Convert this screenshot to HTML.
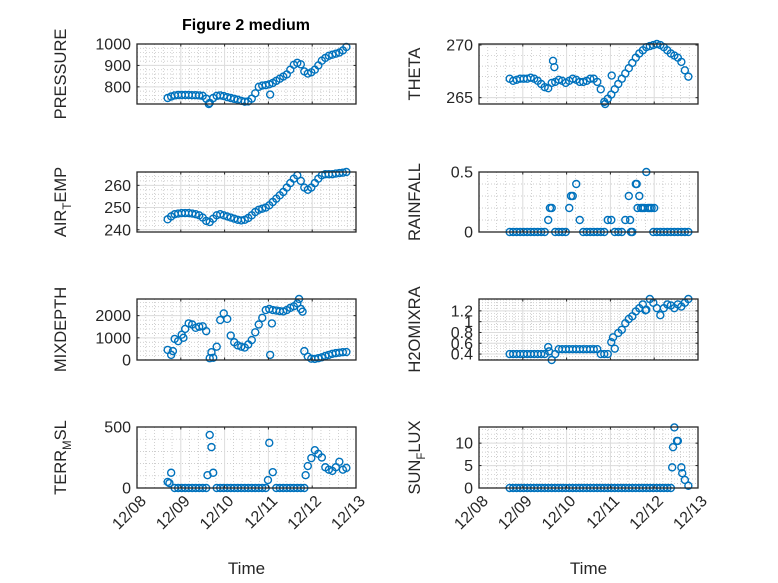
<!DOCTYPE html>
<html><head><meta charset="utf-8"><style>
html,body{margin:0;padding:0;background:#fff;}
svg{display:block;font-family:"Liberation Sans","DejaVu Sans",sans-serif;}
</style></head><body>
<svg id="fig" width="778" height="583" viewBox="0 0 778 583" xmlns="http://www.w3.org/2000/svg">
<rect width="778" height="583" fill="#fff"/>
<text x="246" y="30" text-anchor="middle" font-weight="bold" font-size="16" fill="#000">Figure 2 medium</text>
</svg>
<script>
const T=[0.70,0.78,0.86,0.94,1.02,1.10,1.18,1.26,1.34,1.42,1.50,1.58,1.66,1.74,1.82,1.90,1.98,2.06,2.14,2.22,2.30,2.38,2.46,2.54,2.62,2.70,2.78,2.86,2.94,3.02,3.10,3.18,3.26,3.34,3.42,3.50,3.58,3.66,3.74,3.82,3.90,3.98,4.06,4.14,4.22,4.30,4.38,4.46,4.54,4.62,4.70,4.78];
const pressure=[748,755,760,762,762,762,762,761,761,760,758,745,725,748,758,760,757,752,748,744,740,735,731,732,745,770,800,806,808,812,818,828,838,848,858,880,903,912,905,872,862,868,880,900,922,935,945,950,955,960,970,986];
const pressureExtra=[[3.04,764],[1.64,720]];
const theta=[266.8,266.6,266.7,266.8,266.8,266.8,266.9,266.8,266.6,266.3,266.0,265.9,266.4,266.5,266.7,266.6,266.4,266.6,266.8,266.7,266.5,266.5,266.6,266.8,266.8,266.5,265.8,264.6,264.9,265.3,265.8,266.3,266.8,267.3,267.8,268.3,268.8,269.2,269.5,269.8,269.9,270.0,270.1,270.0,269.8,269.5,269.2,269.0,268.8,268.4,267.6,267.0];
const thetaExtra=[[1.69,268.5],[1.72,267.9],[3.03,267.1],[2.88,264.4]];
const airTemp=[244.7,246,247,247.3,247.5,247.5,247.5,247.3,247,246.5,245.5,244,243.5,245,246.5,247,246.5,246,245.5,245,244.5,244.2,244.5,245.3,246.5,248,249,249.5,250,251,252.5,254,255.5,257,259,261,263,264.5,262,259,258,259,261,263,264.5,265,265,265,265.3,265.5,265.7,266];
const airTempExtra=[];
const rainfall=[0,0,0,0,0,0,0,0,0,0,0,0.1,0.2,0,0,0,0,0.2,0.3,0.4,0.1,0,0,0,0,0,0,0,0.1,0.1,0,0,0,0.1,0.3,0,0.4,0.3,0.2,0.5,0.2,0,0,0,0,0,0,0,0,0,0,0];
const rainfallExtra=[[1.62,0.2],[2.10,0.3],[3.45,0.1],[3.62,0.2],[3.70,0.2],[3.78,0.2],[3.86,0.2],[3.94,0.2],[4.00,0.2],[3.60,0.4],[3.47,0]];
const mixdepth=[455,230,950,850,1140,1400,1650,1600,1450,1500,1520,1300,80,100,600,1800,2100,1850,1100,800,660,600,560,700,900,1250,1600,1900,2250,2300,2250,2230,2200,2190,2250,2350,2420,2550,2300,400,150,60,50,80,120,180,230,280,310,330,350,360];
const mixdepthExtra=[[3.04,230],[3.08,1650],[1.06,1000],[3.70,2750],[1.70,350],[0.82,400],[3.78,2180]];
const h2o=[0.4,0.4,0.4,0.4,0.4,0.4,0.4,0.4,0.4,0.4,0.4,0.53,0.29,0.4,0.49,0.49,0.49,0.49,0.49,0.49,0.49,0.49,0.49,0.49,0.49,0.49,0.4,0.4,0.4,0.62,0.5,0.79,0.85,0.97,1.05,1.1,1.19,1.25,1.32,1.22,1.42,1.35,1.25,1.12,1.25,1.32,1.3,1.25,1.32,1.28,1.35,1.42];
const h2oExtra=[[3.06,0.71],[1.60,0.45],[3.80,1.21]];
const terr=[50,125,0,0,0,0,0,0,0,0,0,0,435,125,0,0,0,0,0,0,0,0,0,0,0,0,0,0,0,370,130,0,0,0,0,0,0,0,0,0,180,245,310,280,250,170,150,140,170,215,150,165];
const terrExtra=[[1.61,105],[1.70,335],[2.99,65],[0.74,40],[3.85,105]];
const sun=[0,0,0,0,0,0,0,0,0,0,0,0,0,0,0,0,0,0,0,0,0,0,0,0,0,0,0,0,0,0,0,0,0,0,0,0,0,0,0,0,0,0,0,0,0,0,0,13.5,10.5,4.6,1.8,0.5];
const sunExtra=[[4.41,4.6],[4.43,9.1],[4.52,10.5],[4.64,3.3]];
const xTickLabels=["12/08","12/09","12/10","12/11","12/12","12/13"];

const NS="http://www.w3.org/2000/svg";
const svg=document.getElementById('fig');
function mk(tag,attrs,parent){const e=document.createElementNS(NS,tag);for(const k in attrs)e.setAttribute(k,attrs[k]);(parent||svg).appendChild(e);return e;}

const panels=[
 {key:'pressure',vals:pressure,extra:pressureExtra,x0:137,x1:356,y0:44,y1:104,ymin:720,ymax:1000,ticks:[800,900,1000],minor:20,label:['PRESSURE']},
 {key:'theta',vals:theta,extra:thetaExtra,x0:479,x1:698,y0:44,y1:104,ymin:264.4,ymax:270.1,ticks:[265,270],minor:1,label:['THETA']},
 {key:'air-temp',vals:airTemp,extra:airTempExtra,x0:137,x1:356,y0:172,y1:232,ymin:239,ymax:266,ticks:[240,250,260],minor:2,label:['AIR','T','EMP']},
 {key:'rainfall',vals:rainfall,extra:rainfallExtra,x0:479,x1:698,y0:172,y1:232,ymin:0,ymax:0.5,ticks:[0,0.5],minor:0.1,label:['RAINFALL']},
 {key:'mixdepth',vals:mixdepth,extra:mixdepthExtra,x0:137,x1:356,y0:299,y1:360,ymin:0,ymax:2750,ticks:[0,1000,2000],minor:200,label:['MIXDEPTH']},
 {key:'h2omixra',vals:h2o,extra:h2oExtra,x0:479,x1:698,y0:299,y1:360,ymin:0.29,ymax:1.42,ticks:[0.4,0.6,0.8,1,1.2],minor:0.05,label:['H2OMIXRA']},
 {key:'terr-msl',vals:terr,extra:terrExtra,x0:137,x1:356,y0:427,y1:488,ymin:0,ymax:500,ticks:[0,500],minor:100,label:['TERR','M','SL'],bottom:true},
 {key:'sun-flux',vals:sun,extra:sunExtra,x0:479,x1:698,y0:427,y1:488,ymin:0,ymax:13.6,ticks:[0,5,10],minor:1,label:['SUN','F','LUX'],bottom:true}
];

panels.forEach(p=>{
 const g=mk('g',{});
 
 
 const xs=d=>p.x0+(p.x1-p.x0)*d/5;
 const ys=v=>p.y1-(p.y1-p.y0)*(v-p.ymin)/(p.ymax-p.ymin);
 for(let i=1;i<25;i++){ if(i%5===0)continue; const x=xs(i/5);
   mk('line',{x1:x,x2:x,y1:p.y0,y2:p.y1,stroke:'#bdbdbd','stroke-width':0.7,'stroke-dasharray':'1,2'},g);}
 const start=Math.ceil(p.ymin/p.minor-1e-6);
 for(let k=start;k*p.minor<=p.ymax+1e-9;k++){const v=k*p.minor; const y=ys(v);
   mk('line',{x1:p.x0,x2:p.x1,y1:y,y2:y,stroke:'#bdbdbd','stroke-width':0.7,'stroke-dasharray':'1,2'},g);}
 for(let i=1;i<5;i++){const x=xs(i); mk('line',{x1:x,x2:x,y1:p.y0,y2:p.y1,stroke:'#dcdcdc','stroke-width':1},g);}
 p.ticks.forEach(v=>{const y=ys(v); mk('line',{x1:p.x0,x2:p.x1,y1:y,y2:y,stroke:'#dcdcdc','stroke-width':1},g);});
 const pts=mk('g',{fill:'none',stroke:'#0072BD','stroke-width':1.4},g);
 
 
 T.forEach((t,i)=>{const c=mk('circle',{cx:xs(t),cy:ys(p.vals[i]),r:3.5},pts);
   
   });
 p.extra.forEach(e=>{const c=mk('circle',{cx:xs(e[0]),cy:ys(e[1]),r:3.5},pts);
   
   });
 mk('rect',{x:p.x0,y:p.y0,width:p.x1-p.x0,height:p.y1-p.y0,fill:'none',stroke:'#262626','stroke-width':1.3},g);
 for(let i=0;i<=5;i++){const x=xs(i); mk('line',{x1:x,x2:x,y1:p.y1,y2:p.y1-2.5,stroke:'#262626','stroke-width':1},g);
   mk('line',{x1:x,x2:x,y1:p.y0,y2:p.y0+2.5,stroke:'#262626','stroke-width':1},g);}
 p.ticks.forEach(v=>{const y=ys(v);
   mk('line',{x1:p.x0,x2:p.x0+2.5,y1:y,y2:y,stroke:'#262626','stroke-width':1},g);
   mk('line',{x1:p.x1,x2:p.x1-2.5,y1:y,y2:y,stroke:'#262626','stroke-width':1},g);
   const t=mk('text',{x:p.x0-6,y:y+5.5,'text-anchor':'end','font-size':16,fill:'#262626'},g);
   
   
   t.textContent=String(v);});
 const lx=p.x0-(p.x0<200?71:59), ly=(p.y0+p.y1)/2;
 const yl=mk('text',{x:lx,y:ly,transform:`rotate(-90 ${lx} ${ly})`,'text-anchor':'middle','font-size':16.5,fill:'#262626'},g);
 
 
 if(p.label.length===1){yl.textContent=p.label[0];}
 else{
   const a=mk('tspan',{},yl);a.textContent=p.label[0];
   const b=mk('tspan',{dy:5,'font-size':11.5},yl);b.textContent=p.label[1];
   const c=mk('tspan',{dy:-5},yl);c.textContent=p.label[2];
 }
 if(p.bottom){
   xTickLabels.forEach((s,i)=>{const x=xs(i)+10,y=p.y1+14;
     const t=mk('text',{x:x,y:y,transform:`rotate(-45 ${x} ${y})`,'text-anchor':'end','font-size':16,fill:'#262626'},g);
     
     
     t.textContent=s;});
   const xt=mk('text',{x:(p.x0+p.x1)/2,y:574,'text-anchor':'middle','font-size':17,fill:'#262626'},g);
   
   
   xt.textContent='Time';
 }
});
</script>
</body></html>
